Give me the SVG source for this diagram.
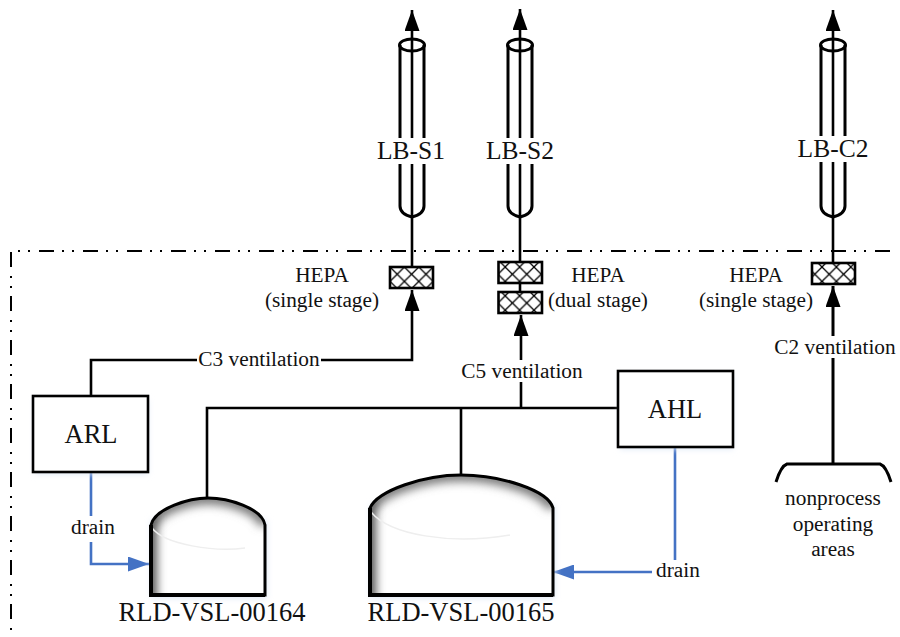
<svg xmlns="http://www.w3.org/2000/svg" width="900" height="637" viewBox="0 0 900 637">
<style>
text{font-family:"Liberation Serif","Times New Roman",serif;fill:#111;text-anchor:middle}
.l{fill:none;stroke:#000;stroke-width:2.6}
.t{fill:none;stroke:#000;stroke-width:3}
.b{fill:none;stroke:#4472C4;stroke-width:2.6}
.d{fill:none;stroke:#000;stroke-width:2;stroke-dasharray:15 9 2 8 2 8}
.box{fill:#fff;stroke:#000;stroke-width:2.6}
.hb{fill:url(#hatch);stroke:#000;stroke-width:2.6}
.s25{font-size:25.500px}.s21{font-size:21.300px}.s26{font-size:26.500px}
.bg{fill:#fff;stroke:none}
</style>
<defs>
<pattern id="hatch" width="14.4" height="14.4" patternUnits="userSpaceOnUse" x="390" y="267">
<rect width="14.4" height="14.4" fill="#fff"/>
<path d="M0 0L14.4 14.4M14.4 0L0 14.4" stroke="#000" stroke-width="1.300"/>
</pattern>
<marker id="ak" markerUnits="userSpaceOnUse" markerWidth="21" markerHeight="15" refX="21" refY="7.5" viewBox="0 0 21 15" orient="auto"><path d="M0 0L21 7.5L0 15z" fill="#000"/></marker>
<marker id="ab" markerUnits="userSpaceOnUse" markerWidth="21" markerHeight="15" refX="21" refY="7.5" viewBox="0 0 21 15" orient="auto"><path d="M0 0L21 7.5L0 15z" fill="#4472C4"/></marker>
<filter id="sh" filterUnits="userSpaceOnUse" x="100" y="440" width="500" height="200"><feGaussianBlur stdDeviation="5"/></filter>
<filter id="gl" filterUnits="userSpaceOnUse" x="0" y="350" width="780" height="287"><feGaussianBlur stdDeviation="3"/></filter>
<clipPath id="c1"><path d="M151 525C155 508 190 498 208 498C228 498 262 508 265 525V595H151Z"/></clipPath>
<clipPath id="c2"><path d="M370 508C378 490 425 475 461 475C500 475 548 490 553 508V595H370Z"/></clipPath>
</defs>

<g id="boundary"><path class="d" d="M890 251H11V637"/></g>

<g id="connectors">
<path class="l" d="M412 267V10" marker-end="url(#ak)"/>
<path class="l" d="M520 262V9" marker-end="url(#ak)"/>
<path class="l" d="M833 263V10" marker-end="url(#ak)"/>
<path class="l" d="M91 396V360H412V290" marker-end="url(#ak)"/>
<path class="l" d="M521 408V315" marker-end="url(#ak)"/>
<path class="l" d="M520 283V292"/>
<path class="l" d="M833 463V286" marker-end="url(#ak)" style="stroke-width:3"/>
<path class="l" d="M207 498V408H618"/>
<path class="l" d="M461 408V475"/>
<path class="b" d="M91 472V564H149" marker-end="url(#ab)"/>
<path class="b" d="M675 447V572H553" marker-end="url(#ab)"/>
</g>

<g id="pipe-s1"><ellipse class="t" cx="412" cy="45" rx="12.500" ry="6"/><path class="t" d="M400 45V206Q400 214 412 217Q424 214 424 206V45"/></g>
<g id="pipe-s2"><ellipse class="t" cx="520" cy="45" rx="12.500" ry="6"/><path class="t" d="M508 45V206Q508 214 520 217Q532 214 532 206V45"/></g>
<g id="pipe-c2"><ellipse class="t" cx="833" cy="45" rx="12.500" ry="6"/><path class="t" d="M821 45V206Q821 214 833 217Q845 214 845 206V45"/></g>

<g id="label-s1"><rect class="bg" x="376" y="138" width="72" height="26"/><text class="s25" x="411" y="159">LB-S1</text></g>
<g id="label-s2"><rect class="bg" x="484" y="138" width="72" height="26"/><text class="s25" x="520" y="159">LB-S2</text></g>
<g id="label-c2"><rect class="bg" x="796" y="136" width="74" height="26"/><text class="s25" x="833" y="157">LB-C2</text></g>

<g id="hepa-s1"><rect class="hb" x="390" y="267" width="43" height="21"/><text class="s21" x="322" y="282">HEPA</text><text class="s21" x="322" y="307">(single stage)</text></g>
<g id="hepa-s2"><rect class="hb" x="498.500" y="262" width="43.500" height="21"/><rect class="hb" x="498.500" y="292" width="43.500" height="21"/><text class="s21" x="598" y="282">HEPA</text><text class="s21" x="598" y="307">(dual stage)</text></g>
<g id="hepa-c2"><rect class="hb" x="812" y="263" width="43" height="21"/><text class="s21" x="756" y="282">HEPA</text><text class="s21" x="756" y="307">(single stage)</text></g>

<g id="conn-labels">
<rect class="bg" x="197" y="350" width="124" height="20"/><text class="s21" x="259" y="366">C3 ventilation</text>
<rect class="bg" x="460" y="360" width="124" height="22"/><text class="s21" x="522" y="378">C5 ventilation</text>
<rect class="bg" x="772" y="336" width="124" height="22"/><text class="s21" x="835" y="354">C2 ventilation</text>
<rect class="bg" x="68" y="516" width="48" height="26"/><text class="s21" x="93" y="534">drain</text>
<rect class="bg" x="652" y="560" width="50" height="24"/><text class="s21" x="678" y="577">drain</text>
</g>

<g id="ARL"><rect x="35" y="400" width="113" height="74" fill="#dfe8f6" filter="url(#gl)"/><rect class="box" x="33" y="396" width="115" height="76"/><text class="s26" x="91" y="443">ARL</text></g>
<g id="AHL"><rect x="620" y="375" width="113" height="74" fill="#dfe8f6" filter="url(#gl)"/><rect class="box" x="618" y="371" width="115" height="76"/><text class="s26" x="675" y="418">AHL</text></g>

<g id="RLD-VSL-00164">
<rect x="151" y="520" width="116" height="78" fill="#dfe8f6" filter="url(#gl)"/>
<path d="M151 525C155 508 190 498 208 498C228 498 262 508 265 525V595H151Z" fill="#fff"/>
<g clip-path="url(#c1)"><path d="M151 525C155 508 190 498 208 498C228 498 262 508 265 525" fill="none" stroke="#777" stroke-width="13" filter="url(#sh)"/><rect x="141" y="515" width="16" height="90" fill="#555" filter="url(#sh)"/><path d="M152 528C165 545 215 552 245 548" fill="none" stroke="#eee" stroke-width="1.500"/></g>
<path d="M151 525C155 508 190 498 208 498C228 498 262 508 265 525V595H151Z" fill="none" stroke="#000" stroke-width="3"/>
<path d="M151 525V595H265" fill="none" stroke="#000" stroke-width="4"/>
<text class="s26" x="212" y="621">RLD-VSL-00164</text>
</g>

<g id="RLD-VSL-00165">
<rect x="370" y="505" width="185" height="93" fill="#dfe8f6" filter="url(#gl)"/>
<path d="M370 508C378 490 425 475 461 475C500 475 548 490 553 508V595H370Z" fill="#fff"/>
<g clip-path="url(#c2)"><path d="M370 508C378 490 425 475 461 475C500 475 548 490 553 508" fill="none" stroke="#777" stroke-width="13" filter="url(#sh)"/><rect x="360" y="500" width="16" height="105" fill="#555" filter="url(#sh)"/><path d="M371 512C390 535 450 545 510 535" fill="none" stroke="#eee" stroke-width="1.500"/></g>
<path d="M370 508C378 490 425 475 461 475C500 475 548 490 553 508V595H370Z" fill="none" stroke="#000" stroke-width="3"/>
<path d="M370 508V595H553" fill="none" stroke="#000" stroke-width="4"/>
<text class="s26" x="461" y="621">RLD-VSL-00165</text>
</g>

<g id="nonprocess">
<path class="l" d="M776 482Q781 466 787 464H880Q886 466 891 482" style="stroke-width:3"/>
<text class="s21" x="833" y="505">nonprocess</text><text class="s21" x="833" y="531">operating</text><text class="s21" x="833" y="556">areas</text>
</g>
</svg>
